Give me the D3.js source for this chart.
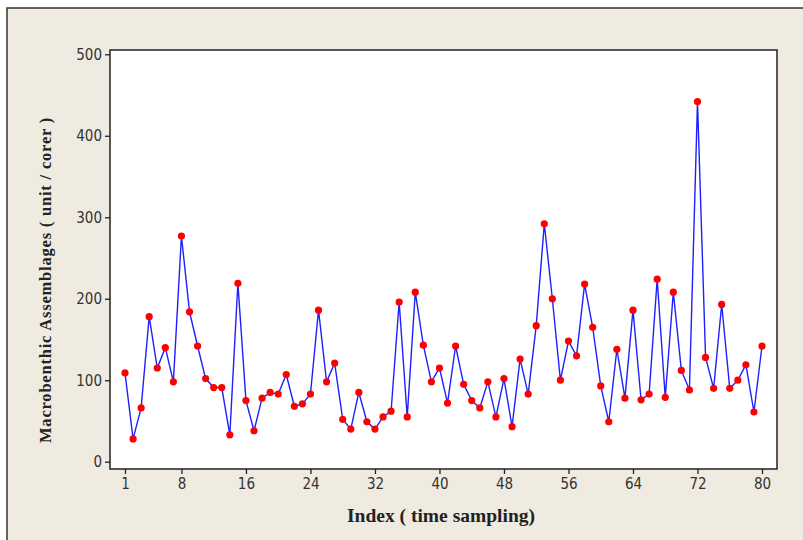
<!DOCTYPE html>
<html>
<head>
<meta charset="utf-8">
<script src="https://cdn.jsdelivr.net/npm/d3@7"></script>
<style>
  html, body { margin: 0; padding: 0; background: #fff; }
  svg { display: block; }
</style>
</head>
<body>
<svg id="chart" width="803" height="540"></svg>
<script>
// sample values, index 1..80
const values = [
  109, 28, 66, 178, 115, 140, 98, 277, 184, 142,
  102, 91, 91, 33, 219, 75, 38, 78, 85, 83,
  107, 68, 71, 83, 186, 98, 121, 52, 40, 85,
  49, 40, 55, 62, 196, 55, 208, 143, 98, 115,
  72, 142, 95, 75, 66, 98, 55, 102, 43, 126,
  83, 167, 292, 200, 100, 148, 130, 218, 165, 93,
  49, 138, 78, 186, 76, 83, 224, 79, 208, 112,
  88, 442, 128, 90, 193, 90, 100, 119, 61, 142
];
const xTicks = [1, 8, 16, 24, 32, 40, 48, 56, 64, 72, 80];
const yTicks = [0, 100, 200, 300, 400, 500];

const data = values.map((v, i) => ({ idx: i + 1, v }));

const svg = d3.select("#chart");

// outer panel
svg.append("rect").attr("x", 0).attr("y", 0).attr("width", 803).attr("height", 540).attr("fill", "#fff");
svg.append("rect")
  .attr("x", 7).attr("y", 8).attr("width", 820).attr("height", 560)
  .attr("fill", "#efebe1").attr("stroke", "#333").attr("stroke-width", 1.5);

const plot = { left: 110, top: 50, right: 777, bottom: 469 };

const x = d3.scaleLinear().domain([1, 80]).range([125, 762]);
const y = d3.scaleLinear().domain([0, 500]).range([461.7, 54.3]);

svg.append("rect")
  .attr("x", plot.left).attr("y", plot.top)
  .attr("width", plot.right - plot.left).attr("height", plot.bottom - plot.top)
  .attr("fill", "#fff").attr("stroke", "#222").attr("stroke-width", 1.5);

const tickFont = "'DejaVu Sans Condensed', 'DejaVu Sans', sans-serif";

const yAxis = svg.append("g")
  .attr("transform", `translate(${plot.left},0)`)
  .call(d3.axisLeft(y).tickValues(yTicks).tickSize(5).tickPadding(3));
yAxis.select(".domain").remove();

const xAxis = svg.append("g")
  .attr("transform", `translate(0,${plot.bottom})`)
  .call(d3.axisBottom(x).tickValues(xTicks).tickSize(5).tickPadding(4));
xAxis.select(".domain").remove();

svg.selectAll(".tick line").attr("stroke", "#222").attr("stroke-width", 1.3);
svg.selectAll(".tick text")
  .attr("fill", "#333")
  .style("font-family", tickFont)
  .style("font-size", "15px");

// series
svg.append("path")
  .datum(data)
  .attr("fill", "none")
  .attr("stroke", "#1f1fff")
  .attr("stroke-width", 1.4)
  .attr("d", d3.line().x(d => x(d.idx)).y(d => y(d.v)));

svg.selectAll(".pt")
  .data(data)
  .enter().append("circle")
  .attr("class", "pt")
  .attr("cx", d => x(d.idx))
  .attr("cy", d => y(d.v))
  .attr("r", 3.6)
  .attr("fill", "#ff0000");

// axis titles
svg.append("text")
  .attr("x", 441).attr("y", 522)
  .attr("text-anchor", "middle")
  .style("font-family", "'Liberation Serif', serif")
  .style("font-weight", "bold")
  .style("font-size", "19.5px")
  .attr("fill", "#222")
  .text("Index ( time sampling)");

svg.append("text")
  .attr("transform", "translate(51,280) rotate(-90)")
  .attr("text-anchor", "middle")
  .style("font-family", "'Liberation Serif', serif")
  .style("font-weight", "bold")
  .style("font-size", "16.5px")
  .style("letter-spacing", "0.8px")
  .attr("fill", "#222")
  .text("Macrobenthic Assemblages ( unit / corer )");
</script>
</body>
</html>
